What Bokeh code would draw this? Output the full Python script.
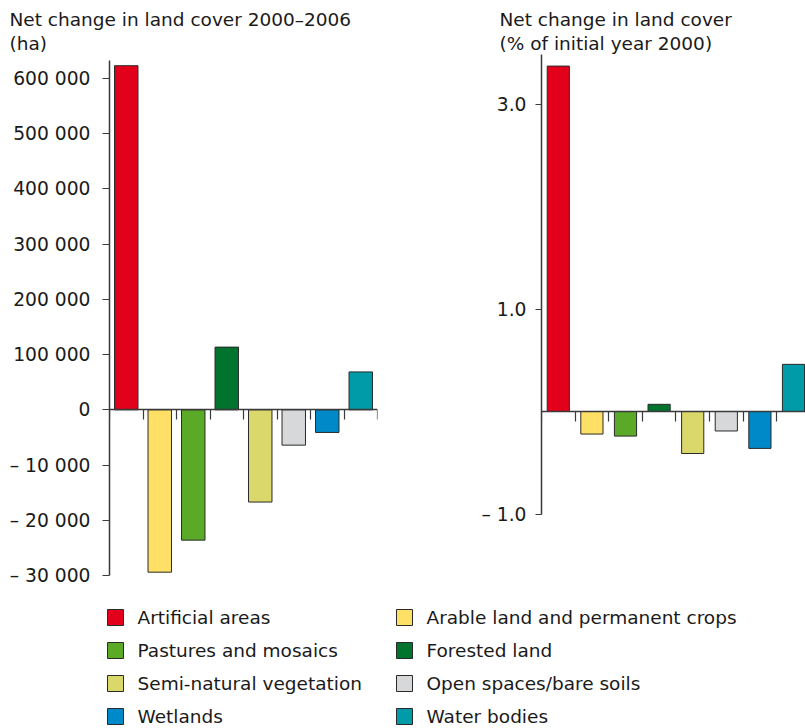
from bokeh.plotting import figure
from bokeh.models import Range1d, FixedTicker, ColumnDataSource
from bokeh.core.properties import value
from bokeh.layouts import column, row
from bokeh.embed import file_html
from bokeh.resources import INLINE

# ---------------- data ----------------
categories = ["Artificial areas", "Arable land and permanent crops", "Pastures and mosaics",
              "Forested land", "Semi-natural vegetation", "Open spaces/bare soils",
              "Wetlands", "Water bodies"]
change_ha = [623000, -29400, -23600, 113500, -16700, -6400, -4100, 68600]
change_pct = [3.37, -0.22, -0.24, 0.07, -0.41, -0.19, -0.36, 0.46]
colors = ["#E2001A", "#FFE066", "#5AAA28", "#00732F", "#DAD86A", "#D7D8DA", "#0089C8", "#009BA8"]
ha_ticks = [-30000, -20000, -10000, 0, 100000, 200000, 300000, 400000, 500000, 600000]
pct_ticks = [-1.0, 1.0, 3.0]
pct_tick_labels = ["\u2013 1.0", "1.0", "3.0"]
title_left = "Net change in land cover 2000\u20132006\n(ha)"
title_right = "Net change in land cover\n(% of initial year 2000)"

FONT = "DejaVu Sans"
FS = "18.7px"
TFS = "18.5px"
TXT = "#1a1a1a"
AX = "#3a3a3a"
BAR_LINE = "#2a2a2a"
NEG_STRETCH = 10  # left axis: negative side drawn at 10x scale (broken axis)


def stretch(v):
    return v if v >= 0 else v * NEG_STRETCH


def fmt_ha(v):
    s = f"{abs(v):,}".replace(",", " ")
    return ("\u2013 " + s) if v < 0 else s


xs = [i + 0.5 for i in range(len(categories))]
PLOT_H = 608


def style(p, tick_out, standoff, ybounds):
    p.xgrid.visible = False
    p.ygrid.visible = False
    p.outline_line_color = None
    p.background_fill_color = "white"
    p.border_fill_color = "white"
    # zero line drawn as the x axis
    p.xaxis.fixed_location = 0
    p.xaxis.ticker = FixedTicker(ticks=list(range(len(categories) + 1)))
    p.xaxis.major_label_text_color = None
    p.xaxis.major_tick_out = 10
    p.xaxis.major_tick_in = 0
    p.xaxis.minor_tick_line_color = None
    p.xaxis.axis_line_color = AX
    p.xaxis.axis_line_width = 1.5
    p.xaxis.major_tick_line_color = AX
    p.xaxis.major_tick_line_width = 1.2
    p.xaxis.major_label_standoff = 0
    # y axis
    p.yaxis.bounds = ybounds
    p.yaxis.major_tick_out = tick_out
    p.yaxis.major_tick_in = 0
    p.yaxis.minor_tick_line_color = None
    p.yaxis.axis_line_color = AX
    p.yaxis.axis_line_width = 1.5
    p.yaxis.major_tick_line_color = AX
    p.yaxis.major_tick_line_width = 1.2
    p.yaxis.major_label_text_font = FONT
    p.yaxis.major_label_text_font_size = FS
    p.yaxis.major_label_text_color = TXT
    p.yaxis.major_label_standoff = standoff


def set_title(p, text, offset):
    p.title.text = text
    p.title.align = "left"
    p.title.offset = offset
    p.title.text_font = FONT
    p.title.text_font_size = TFS
    p.title.text_font_style = "normal"
    p.title.text_color = TXT
    p.title.text_line_height = 1.18
    p.title.standoff = 0


# ---------------- left panel (ha) ----------------
src1 = ColumnDataSource(dict(x=xs, y=[stretch(v) for v in change_ha], color=colors, cat=categories))
p1 = figure(width=440, height=PLOT_H, x_range=Range1d(0, 8), y_range=Range1d(-300000, 643300),
            output_backend="svg", toolbar_location=None,
            min_border_left=109, min_border_right=63, min_border_top=54, min_border_bottom=33)
p1.vbar(x="x", top="y", bottom=0, width=0.7, fill_color="color", line_color=BAR_LINE,
        line_width=1, source=src1)
style(p1, 7, 12, (-300000, 632000))
p1.yaxis.ticker = FixedTicker(ticks=[stretch(t) for t in ha_ticks])
p1.yaxis.major_label_overrides = {stretch(t): fmt_ha(t) for t in ha_ticks}
set_title(p1, title_left, -100)

# ---------------- right panel (%) ----------------
src2 = ColumnDataSource(dict(x=xs, y=change_pct, color=colors, cat=categories))
p2 = figure(width=365, height=PLOT_H, x_range=Range1d(0, 7.857), y_range=Range1d(-1.6, 3.483),
            output_backend="svg", toolbar_location=None,
            min_border_left=101, min_border_right=0, min_border_top=54, min_border_bottom=33)
p2.vbar(x="x", top="y", bottom=0, width=0.66, fill_color="color", line_color=BAR_LINE,
        line_width=1, source=src2)
style(p2, 6, 9, (-1.0, 3.483))
p2.yaxis.ticker = FixedTicker(ticks=pct_ticks)
p2.yaxis.major_label_overrides = {t: l for t, l in zip(pct_ticks, pct_tick_labels)}
set_title(p2, title_right, -42)

# ---------------- legend (2 columns, filled row by row) ----------------
LEG_H = 728 - PLOT_H
LEG_COL_X = [115, 404]     # swatch centres (px)
LEG_ROW_Y0, LEG_ROW_DY = 9, 33
LEG_TEXT_DX = 22
leg = dict(
    sx=[LEG_COL_X[i % 2] for i in range(len(categories))],
    sy=[LEG_ROW_Y0 + LEG_ROW_DY * (i // 2) for i in range(len(categories))],
    tx=[LEG_COL_X[i % 2] + LEG_TEXT_DX for i in range(len(categories))],
    color=colors, cat=categories)
src3 = ColumnDataSource(leg)
p3 = figure(width=805, height=LEG_H, x_range=Range1d(0, 805), y_range=Range1d(LEG_H, 0),
            output_backend="svg", toolbar_location=None,
            min_border_left=0, min_border_right=0, min_border_top=0, min_border_bottom=0)
p3.axis.visible = False
p3.grid.visible = False
p3.outline_line_color = None
p3.rect(x="sx", y="sy", width=16, height=16, width_units="screen", height_units="screen",
        fill_color="color", line_color=BAR_LINE, line_width=1, source=src3)
p3.text(x="tx", y="sy", text="cat", text_baseline="middle", text_align="left",
        text_font=value(FONT), text_font_size=value(TFS), text_color=TXT, source=src3)

layout = column(row(p1, p2, spacing=0), p3, spacing=0)
open("out.html", "w").write(file_html(layout, INLINE))
